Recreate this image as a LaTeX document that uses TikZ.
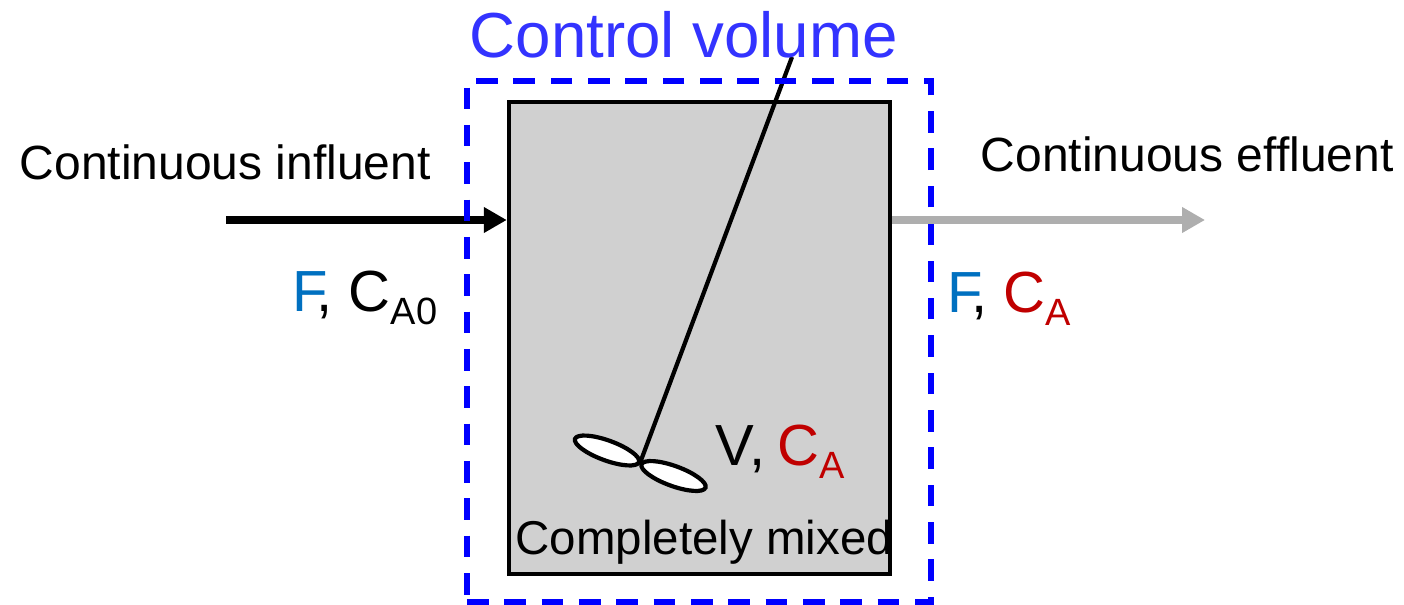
\documentclass[tikz,border=0pt]{standalone}
\usepackage{fontspec}
\setmainfont{Liberation Sans}
\usepackage{xcolor}
\usetikzlibrary{positioning,calc,arrows.meta,shapes.geometric}

\definecolor{ctrlblue}{HTML}{3333FF}
\definecolor{dashblue}{HTML}{0000FF}
\definecolor{flowblue}{HTML}{0070C0}
\definecolor{concred}{HTML}{C00000}
\definecolor{tankgray}{HTML}{D0D0D0}
\definecolor{outgray}{HTML}{AEAEAE}

\newcommand{\lowsub}[1]{\raisebox{-3.8pt}{\fontsize{10.8}{12}\selectfont #1}}

\begin{document}
\begin{tikzpicture}[x=0.01cm, y=-0.01cm, >={Triangle[length=6.5pt, width=6.9pt]},
    label/.style = {anchor=base west, inner sep=0pt, font=\fontsize{13.65}{16}\selectfont},
    symbol/.style = {anchor=base west, inner sep=0pt, font=\fontsize{16.5}{19}\selectfont},
    tank/.style = {draw, fill=tankgray, line width=1.2pt, minimum width=3.81cm, minimum height=4.72cm, inner sep=0pt},
    volume/.style = {draw=dashblue, line width=1.55pt, dash pattern=on 6.15pt off 4.47pt, minimum width=4.64cm, minimum height=5.21cm, inner sep=0pt},
    blade/.style = {ellipse, draw, fill=white, line width=1.2pt, minimum width=0.68cm, minimum height=0.2cm, inner sep=0pt, outer sep=0pt},
    flow/.style = {->, line width=2pt}]

\node[tank] (reactor) at (699.5,338) {};
\coordinate (inlet) at (226,220);
\coordinate (outlet) at (1205,220);
\coordinate (hub) at (640,463);
\coordinate (top) at (792,57);

\node[blade, rotate=-20] (bladeL) at (607,450.5) {};
\node[blade, rotate=-20] (bladeR) at (673.5,476) {};
\draw[line width=1.2pt] (top) -- (hub);

\path (inlet) edge[flow] (reactor.west |- inlet);
\node[volume] (cv) at (699,341.5) {};
\path (reactor.east |- outlet) edge[flow, outgray] (outlet);

\node[symbol, font=\fontsize{18.1}{21}\selectfont, text=ctrlblue] (cvlabel) at (469,58) {Control volume};
\node[label] (influent) at (19,180) {Continuous influent};
\node[label] (effluent) at (980,172) {Continuous effluent};
\node[label, font=\fontsize{13.5}{16}\selectfont] (mixed) at (515,554) {Completely mixed};
\node[symbol] (feed) at (292,311) {\textcolor{flowblue}{F}\kern-3.3pt, C\lowsub{A0}};
\node[symbol] (exit) at (947,312) {\textcolor{flowblue}{F}\kern-3.3pt, \textcolor{concred}{C\lowsub{A}}};
\node[symbol] (inside) at (715,465) {V, \kern-1.1pt\textcolor{concred}{C\lowsub{A}}};

\useasboundingbox (0,0) rectangle (1404,604);
\end{tikzpicture}
\end{document}
